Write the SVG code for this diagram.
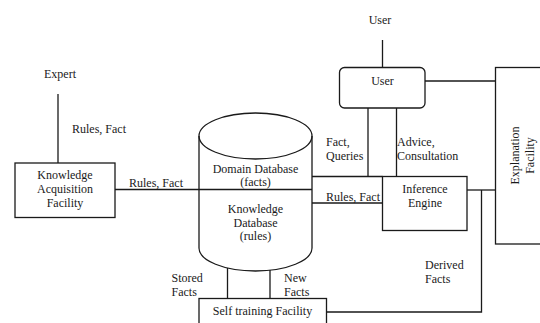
<svg xmlns="http://www.w3.org/2000/svg" width="540" height="323" viewBox="0 0 540 323">
<style>
.s{fill:none;stroke:#1a1a1a;stroke-width:1.3}
.b{fill:#fff;stroke:#1a1a1a;stroke-width:1.3}
text{font-family:"Liberation Serif","Times New Roman",serif;font-size:12px;fill:#1a1a1a}
.c{text-anchor:middle}
</style>
<rect width="540" height="323" fill="#fff"/>
<g id="connectors" class="s">
<line x1="58" y1="94" x2="58" y2="163"/>
<line x1="115" y1="189.5" x2="312" y2="189.5"/>
<line x1="312" y1="176.5" x2="382.5" y2="176.5"/>
<line x1="312" y1="203" x2="382.5" y2="203"/>
<line x1="368" y1="108" x2="368" y2="176.5"/>
<line x1="396.5" y1="108" x2="396.5" y2="176.5"/>
<line x1="382.5" y1="40" x2="382.5" y2="67.5"/>
<line x1="425" y1="81" x2="495.5" y2="81"/>
<line x1="467" y1="190" x2="495.5" y2="190"/>
<polyline points="481.5,190 481.5,312 326.5,312"/>
<line x1="227.5" y1="268" x2="227.5" y2="298.5"/>
<line x1="270" y1="270" x2="270" y2="298.5"/>
</g>
<g id="expert"><text x="44" y="78">Expert</text></g>
<text x="72" y="133">Rules, Fact</text>
<g id="knowledge-acquisition">
<rect class="b" x="15" y="163" width="100" height="54.5"/>
<text class="c" x="65" y="179">Knowledge</text>
<text class="c" x="65" y="193">Acquisition</text>
<text class="c" x="65" y="207">Facility</text>
</g>
<text x="129" y="187">Rules, Fact</text>
<g id="database">
<path class="s" d="M199,136 L199,248 A56.5,23 0 0 0 312,248 L312,136"/>
<ellipse class="s" cx="255.5" cy="136" rx="56.5" ry="23"/>
<text class="c" x="255.5" y="173">Domain Database</text>
<text class="c" x="255.5" y="186">(facts)</text>
<text class="c" x="255.5" y="213">Knowledge</text>
<text class="c" x="255.5" y="227">Database</text>
<text class="c" x="255.5" y="240">(rules)</text>
</g>
<g id="user-top"><text class="c" x="380" y="24">User</text></g>
<g id="user">
<rect class="b" x="339.5" y="67.5" width="85.5" height="40.5" rx="5"/>
<text class="c" x="382.5" y="85">User</text>
</g>
<text x="326" y="146">Fact,</text>
<text x="326" y="160">Queries</text>
<text x="397" y="146">Advice,</text>
<text x="397" y="160">Consultation</text>
<text x="326" y="201">Rules, Fact</text>
<g id="inference-engine">
<rect class="b" x="382.5" y="176.5" width="84.5" height="54"/>
<text class="c" x="425" y="193">Inference</text>
<text class="c" x="425" y="207">Engine</text>
</g>
<g id="explanation-facility">
<rect class="b" x="495.5" y="67.5" width="60" height="176.5"/>
<text class="c" transform="translate(519,155.5) rotate(-90)">Explanation</text>
<text class="c" transform="translate(534,155.5) rotate(-90)">Facility</text>
</g>
<text x="425" y="269">Derived</text>
<text x="425" y="283">Facts</text>
<text x="171.5" y="282">Stored</text>
<text x="171.5" y="295.5">Facts</text>
<text x="284" y="281.5">New</text>
<text x="284" y="295.5">Facts</text>
<g id="self-training">
<rect class="b" x="199" y="298.5" width="127.5" height="40"/>
<text class="c" x="262.5" y="315">Self training Facility</text>
</g>
</svg>
